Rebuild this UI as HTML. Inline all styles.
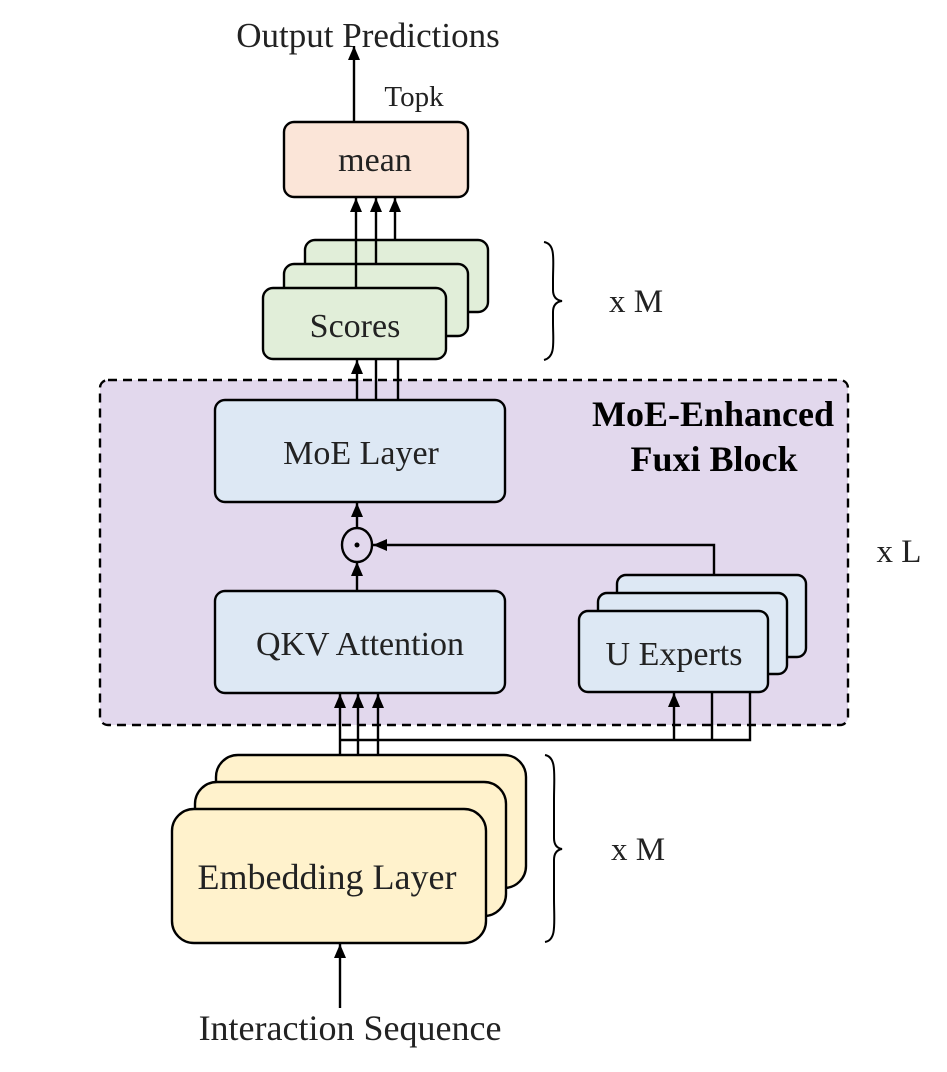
<!DOCTYPE html>
<html><head><style>body{margin:0;background:#fff}svg{display:block}</style></head><body>
<svg width="947" height="1072" viewBox="0 0 947 1072" xmlns="http://www.w3.org/2000/svg" font-family="Liberation Serif, serif">
<defs><marker id="a" markerWidth="14" markerHeight="12" refX="14" refY="6" orient="auto" markerUnits="userSpaceOnUse" viewBox="0 0 14 12"><path d="M0,0 L14,6 L0,12 Z" fill="#000"/></marker></defs>
<g stroke="#000" stroke-width="2.4" fill="none">
<rect x="100" y="380" width="748" height="345" rx="8" fill="#e2d8ed" stroke-dasharray="9,6"/>
<line x1="354" y1="122" x2="354" y2="46" marker-end="url(#a)"/>
<rect x="284" y="122" width="184" height="75" rx="10" fill="#fbe5d8"/>
<rect x="305" y="240" width="183" height="72" rx="10" fill="#e1eed9"/>
<rect x="284" y="264" width="184" height="72" rx="10" fill="#e1eed9"/>
<rect x="263" y="288" width="183" height="71" rx="10" fill="#e1eed9"/>
<line x1="356" y1="288" x2="356" y2="198" marker-end="url(#a)"/>
<line x1="376" y1="264" x2="376" y2="198" marker-end="url(#a)"/>
<line x1="395" y1="240" x2="395" y2="198" marker-end="url(#a)"/>
<line x1="357" y1="400" x2="357" y2="360" marker-end="url(#a)"/>
<line x1="376" y1="400" x2="376" y2="359"/>
<line x1="398" y1="400" x2="398" y2="359"/>
<rect x="215" y="400" width="290" height="102" rx="10" fill="#dde8f4"/>
<rect x="215" y="591" width="290" height="102" rx="10" fill="#dde8f4"/>
<line x1="357" y1="528" x2="357" y2="503" marker-end="url(#a)"/>
<line x1="357" y1="591" x2="357" y2="562" marker-end="url(#a)"/>
<ellipse cx="357" cy="545" rx="15" ry="17" fill="none"/>
<polyline points="714,575 714,545 373,545" marker-end="url(#a)"/>
<rect x="617" y="575" width="189" height="82" rx="9" fill="#dde8f4"/>
<rect x="598" y="593" width="189" height="81" rx="9" fill="#dde8f4"/>
<rect x="579" y="611" width="189" height="81" rx="9" fill="#dde8f4"/>
<polyline points="340,740 750,740 750,692"/>
<line x1="712" y1="740" x2="712" y2="692"/>
<line x1="674" y1="740" x2="674" y2="693" marker-end="url(#a)"/>
<line x1="340" y1="809" x2="340" y2="694" marker-end="url(#a)"/>
<line x1="358" y1="782" x2="358" y2="694" marker-end="url(#a)"/>
<line x1="378" y1="755" x2="378" y2="694" marker-end="url(#a)"/>
<rect x="216" y="755" width="310" height="133" rx="22" fill="#fff2cc"/>
<rect x="195" y="782" width="311" height="134" rx="22" fill="#fff2cc"/>
<rect x="172" y="809" width="314" height="134" rx="22" fill="#fff2cc"/>
<line x1="340" y1="1008" x2="340" y2="944" marker-end="url(#a)"/>
<path d="M544,242 C556,244 553,260 553,280 L553,290 C553,295 555,300 562,301 C555,302 553,307 553,312 L553,322 C553,342 556,357 544,360" stroke-width="2"/>
<path d="M545,755 C557,757 554,775 554,800 L554,838 C554,844 556,848 562,849 C556,850 554,854 554,860 L554,898 C554,923 557,940 545,942" stroke-width="2"/>
</g>
<circle cx="357" cy="545" r="2.5" fill="#000"/>
<g fill="#222" text-anchor="middle">
<text x="368" y="47" font-size="35">Output Predictions</text>
<text x="414" y="106" font-size="29">Topk</text>
<text x="375" y="171" font-size="34">mean</text>
<text x="355" y="337" font-size="34">Scores</text>
<text x="361" y="464" font-size="34">MoE Layer</text>
<text x="360" y="655" font-size="34">QKV Attention</text>
<text x="674" y="665" font-size="34">U Experts</text>
<text x="327" y="889" font-size="36">Embedding Layer</text>
<text x="350" y="1040" font-size="36">Interaction Sequence</text>
<text x="713" y="426" font-size="36" font-weight="bold" fill="#000">MoE-Enhanced</text>
<text x="714" y="471" font-size="36" font-weight="bold" fill="#000">Fuxi Block</text>
<text x="636" y="312" font-size="33">x M</text>
<text x="638" y="860" font-size="33">x M</text>
<text x="899" y="562" font-size="33">x L</text>
</g>
</svg>
</body></html>
